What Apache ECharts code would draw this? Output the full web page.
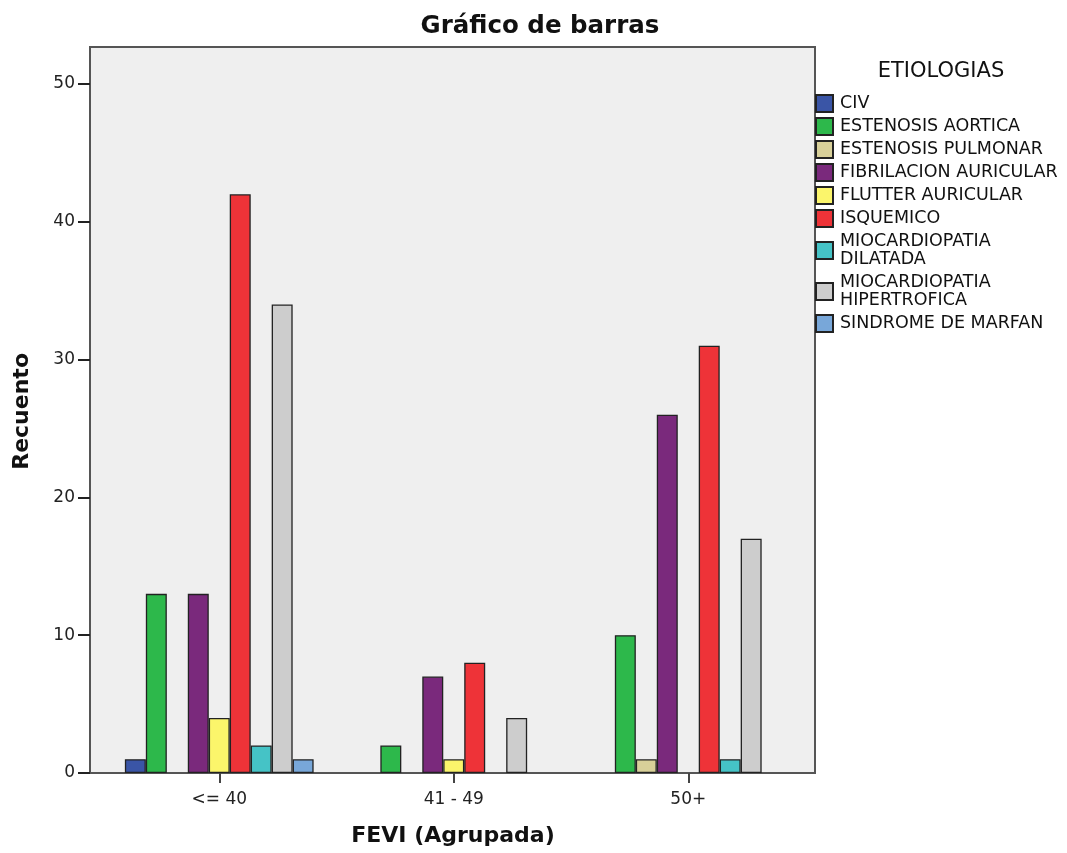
<!DOCTYPE html>
<html>
<head>
<meta charset="utf-8">
<script src="https://cdn.jsdelivr.net/npm/echarts@6/dist/echarts.min.js"></script>
<style>html,body{margin:0;padding:0;background:#fff;}#c{width:1067px;height:853px;}</style>
</head>
<body>
<div id="c"></div>
<script>
const categories = ['<= 40', '41 - 49', '50+'];
const seriesNames = ['CIV', 'ESTENOSIS AORTICA', 'ESTENOSIS PULMONAR', 'FIBRILACION AURICULAR', 'FLUTTER AURICULAR', 'ISQUEMICO', 'MIOCARDIOPATIA\nDILATADA', 'MIOCARDIOPATIA\nHIPERTROFICA', 'SINDROME DE MARFAN'];
const civ = [1, null, null];
const estenosisAortica = [13, 2, 10];
const estenosisPulmonar = [null, null, 1];
const fibrilacion = [13, 7, 26];
const flutter = [4, 1, null];
const isquemico = [42, 8, 31];
const mioDilatada = [2, null, 1];
const mioHipertrofica = [34, 4, 17];
const marfan = [1, null, null];
const yTicks = [0, 10, 20, 30, 40, 50];
const colors = ['#3a55a6', '#2db84b', '#d8d099', '#7a297c', '#fbf56b', '#ee3338', '#45c3c6', '#cdcdcd', '#78a7d9'];

const values = [civ, estenosisAortica, estenosisPulmonar, fibrilacion, flutter, isquemico, mioDilatada, mioHipertrofica, marfan];
const font = 'DejaVu Sans';

const chart = echarts.init(document.getElementById('c'), null, {renderer: 'canvas'});
chart.setOption({
  animation: false,
  backgroundColor: '#ffffff',
  title: [{
    text: 'Gráfico de barras',
    left: 535, top: 9, textAlign: 'center',
    textStyle: {fontFamily: font, fontWeight: 'bold', fontSize: 24.5, color: '#111'}
  }, {
    text: 'FEVI (Agrupada)',
    left: 448, top: 820, textAlign: 'center',
    textStyle: {fontFamily: font, fontWeight: 'bold', fontSize: 22, color: '#111'}
  }, {
    text: 'ETIOLOGIAS',
    left: 936, top: 56, textAlign: 'center',
    textStyle: {fontFamily: font, fontWeight: 'normal', fontSize: 21, color: '#111'}
  }],
  graphic: [{
    type: 'text', left: 11, top: 353, rotation: Math.PI / 2,
    style: {text: 'Recuento', font: 'bold 22px "DejaVu Sans"', fill: '#111'}
  }],
  legend: {
    orient: 'vertical', left: 815, top: 94, padding: 0,
    itemWidth: 17, itemHeight: 17, itemGap: 4,
    icon: 'rect',
    data: seriesNames,
    textStyle: {fontFamily: font, fontSize: 17.5, color: '#111', lineHeight: 18.5, padding: [0, 0, 0, 2]}
  },
  grid: [
    {left: 90, top: 47, width: 725, height: 726, show: true, backgroundColor: '#efefef', borderColor: '#555', borderWidth: 2, containLabel: false},
    {left: 102, top: 84, width: 703.5, height: 689, show: false}
  ],
  xAxis: [
    {gridIndex: 0, type: 'value', show: false, min: 0, max: 1},
    {gridIndex: 1, type: 'category', data: categories,
     axisLine: {show: false},
     axisTick: {show: true, alignWithLabel: true, length: 10, lineStyle: {color: '#444', width: 2}},
     axisLabel: {fontFamily: font, fontSize: 17, color: '#222', margin: 18},
     splitLine: {show: false}}
  ],
  yAxis: [
    {gridIndex: 0, type: 'value', show: false, min: 0, max: 1},
    {gridIndex: 1, type: 'value', min: 0, max: 50, interval: 10, offset: 12,
     axisLine: {show: false},
     axisTick: {show: true, length: 12, lineStyle: {color: '#222', width: 2}},
     axisLabel: {fontFamily: font, fontSize: 17, color: '#222', margin: 15},
     splitLine: {show: false}}
  ],
  series: seriesNames.map((name, i) => ({
    name: name,
    type: 'bar',
    xAxisIndex: 1, yAxisIndex: 1,
    data: values[i],
    barGap: '0%',
    barCategoryGap: '19.5%',
    itemStyle: {color: colors[i], borderColor: '#222', borderWidth: 1.3}
  }))
});
</script>
</body>
</html>
